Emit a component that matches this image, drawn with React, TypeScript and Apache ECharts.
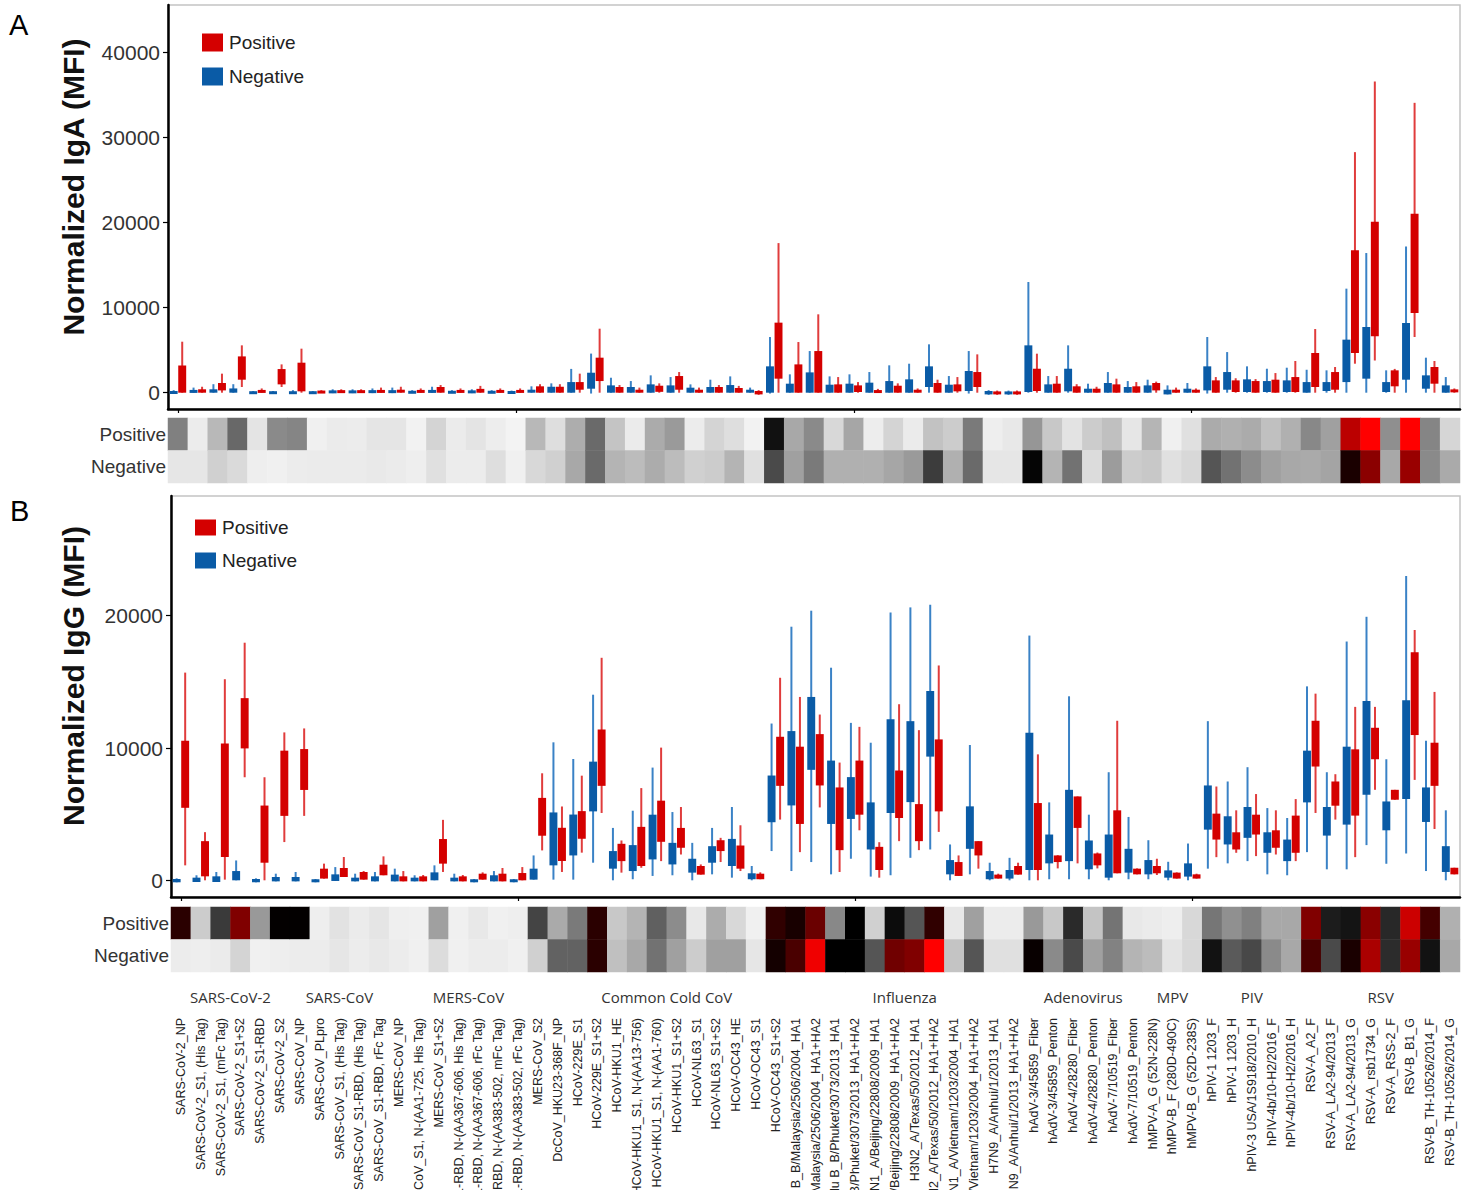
import React, { useEffect, useRef } from "react";
import * as echarts from "echarts";

const antigens = [
  "SARS-CoV-2_NP",
  "SARS-CoV-2_S1, (His Tag)",
  "SARS-CoV-2_S1, (mFc Tag)",
  "SARS-CoV-2_S1+S2",
  "SARS-CoV-2_S1-RBD",
  "SARS-CoV-2_S2",
  "SARS-CoV_NP",
  "SARS-CoV_PLpro",
  "SARS-CoV_S1, (His Tag)",
  "SARS-CoV_S1-RBD, (His Tag)",
  "SARS-CoV_S1-RBD, rFc Tag",
  "MERS-CoV_NP",
  "MERS-CoV_S1, N-(AA1-725, His Tag)",
  "MERS-CoV_S1+S2",
  "MERS-CoV_S1-RBD, N-(AA367-606, His Tag)",
  "MERS-CoV_S1-RBD, N-(AA367-606, rFc Tag)",
  "MERS-CoV_S1-RBD, N-(AA383-502, mFc Tag)",
  "MERS-CoV_S1-RBD, N-(AA383-502, rFc Tag)",
  "MERS-CoV_S2",
  "DcCoV_HKU23-368F_NP",
  "HCoV-229E_S1",
  "HCoV-229E_S1+S2",
  "HCoV-HKU1_HE",
  "HCoV-HKU1_S1, N-(AA13-756)",
  "HCoV-HKU1_S1, N-(AA1-760)",
  "HCoV-HKU1_S1+S2",
  "HCoV-NL63_S1",
  "HCoV-NL63_S1+S2",
  "HCoV-OC43_HE",
  "HCoV-OC43_S1",
  "HCoV-OC43_S1+S2",
  "Flu B_B/Malaysia/2506/2004_HA1",
  "Flu B_B/Malaysia/2506/2004_HA1+HA2",
  "Flu B_B/Phuket/3073/2013_HA1",
  "Flu B_B/Phuket/3073/2013_HA1+HA2",
  "H1N1_A/Beijing/22808/2009_HA1",
  "H1N1_A/Beijing/22808/2009_HA1+HA2",
  "H3N2_A/Texas/50/2012_HA1",
  "H3N2_A/Texas/50/2012_HA1+HA2",
  "H5N1_A/Vietnam/1203/2004_HA1",
  "H5N1_A/Vietnam/1203/2004_HA1+HA2",
  "H7N9_A/Anhui/1/2013_HA1",
  "H7N9_A/Anhui/1/2013_HA1+HA2",
  "hAdV-3/45859_Fiber",
  "hAdV-3/45859_Penton",
  "hAdV-4/28280_Fiber",
  "hAdV-4/28280_Penton",
  "hAdV-7/10519_Fiber",
  "hAdV-7/10519_Penton",
  "hMPV-A_G (52N-228N)",
  "hMPV-B_F (280D-490C)",
  "hMPV-B_G (52D-238S)",
  "hPIV-1 1203_F",
  "hPIV-1 1203_H",
  "hPIV-3 USA/1S918/2010_H",
  "hPIV-4b/10-H2/2016_F",
  "hPIV-4b/10-H2/2016_H",
  "RSV-A_A2_F",
  "RSV-A_LA2-94/2013_F",
  "RSV-A_LA2-94/2013_G",
  "RSV-A_rsb1734_G",
  "RSV-A_RSS-2_F",
  "RSV-B_B1_G",
  "RSV-B_TH-10526/2014_F",
  "RSV-B_TH-10526/2014_G",
];

const groups = [
  { name: "SARS-CoV-2", from: 0, to: 5 },
  { name: "SARS-CoV", from: 6, to: 10 },
  { name: "MERS-CoV", from: 11, to: 18 },
  { name: "Common Cold CoV", from: 19, to: 30 },
  { name: "Influenza", from: 31, to: 42 },
  { name: "Adenovirus", from: 43, to: 48 },
  { name: "MPV", from: 49, to: 51 },
  { name: "PIV", from: 52, to: 56 },
  { name: "RSV", from: 57, to: 64 },
];

const rowNames = ["Negative", "Positive"];
const igaTicks = [0, 10000, 20000, 30000, 40000];
const iggTicks = [0, 10000, 20000];

// [lower whisker, Q1, Q3, upper whisker]
const igaNegative = [
  [-100, -100, 150, 300], [0, 0, 300, 600], [0, 0, 400, 1000], [0, 0, 500, 1000], [-100, -100, 100, 200],
  [-100, -100, 100, 200], [-100, -100, 100, 300], [-100, -100, 100, 200], [-50, 0, 200, 400], [-50, 0, 200, 400],
  [-50, 0, 250, 500], [-50, 0, 250, 600], [-50, -50, 150, 300], [0, 0, 300, 700], [-50, -50, 150, 300],
  [-50, 0, 200, 400], [-50, -50, 150, 300], [-50, -50, 100, 250], [0, 0, 350, 750], [0, 0, 700, 1100],
  [0, 0, 1250, 2800], [-100, 470, 2350, 4600], [0, 0, 860, 1760], [0, 0, 670, 1370], [0, 0, 980, 2040],
  [0, 0, 860, 1840], [0, 0, 590, 980], [0, 0, 670, 1530], [0, 0, 900, 1920], [0, 0, 350, 600],
  [-100, 0, 3100, 6550], [0, 0, 1060, 2160], [0, 0, 2390, 4900], [0, 0, 940, 1920], [0, 0, 1060, 2160],
  [0, 0, 1180, 2430], [0, 0, 1370, 3220], [0, 0, 1570, 3410], [0, 670, 3100, 5690], [0, 0, 940, 1960],
  [-100, 200, 2550, 4900], [-250, -200, 200, 300], [-250, -200, 150, 250], [0, 80, 5570, 13020], [0, 0, 980, 1960],
  [0, 160, 2820, 5570], [0, 0, 470, 1060], [0, 0, 1140, 2430], [0, 0, 670, 1370], [0, 0, 860, 1530],
  [-200, -200, 350, 860], [0, 0, 470, 1140], [-100, 270, 3100, 6550], [0, 350, 2430, 4780], [0, 80, 1570, 3100],
  [0, 80, 1370, 2820], [0, 80, 1450, 2940], [0, 0, 1250, 2700], [0, 200, 1250, 2630], [0, 1250, 6240, 12240],
  [0, 1650, 7730, 16430], [0, 80, 1250, 2630], [0, 1530, 8200, 17200], [0, 470, 2040, 4120], [0, 0, 860, 1840],
];

const igaPositive = [
  [0, 0, 3200, 6000], [0, 0, 400, 700], [0, 270, 1140, 2240], [670, 1530, 4270, 5570], [0, 0, 300, 500],
  [670, 980, 2780, 3330], [0, 160, 3530, 5180], [0, 0, 150, 300], [0, 0, 250, 400], [0, 0, 250, 400],
  [0, 0, 300, 600], [0, 0, 350, 700], [0, 0, 300, 500], [0, 0, 670, 900], [0, 0, 300, 500],
  [0, 0, 450, 800], [0, 0, 300, 500], [0, 0, 300, 500], [0, 0, 750, 1000], [0, 0, 700, 1000],
  [0, 350, 1250, 2240], [0, 1370, 4120, 7530], [0, 0, 670, 900], [0, 0, 350, 600], [0, 100, 820, 1100],
  [0, 350, 1960, 2430], [0, 0, 350, 600], [0, 0, 670, 900], [0, 0, 550, 800], [-250, -200, 200, 300],
  [0, 1650, 8240, 17600], [0, 0, 3330, 5960], [0, 0, 4900, 9220], [0, 0, 980, 1840], [0, 80, 860, 1250],
  [0, 0, 270, 450], [0, 0, 820, 1100], [0, 0, 350, 500], [0, 0, 1140, 1530], [0, 160, 980, 1840],
  [0, 670, 2430, 4510], [-250, -200, 150, 250], [-250, -200, 150, 250], [0, 200, 2820, 4590], [0, 0, 1060, 1960],
  [0, 0, 750, 1000], [0, 0, 470, 700], [0, 0, 980, 1650], [0, 0, 750, 1250], [0, 270, 1140, 1300],
  [0, 0, 350, 600], [0, 0, 350, 500], [0, 0, 1450, 1840], [0, 80, 1450, 1700], [0, 0, 1370, 1600],
  [0, 0, 1530, 2310], [0, 80, 1840, 3730], [0, 670, 4670, 7490], [0, 350, 2430, 3020], [3410, 4670, 16750, 28300],
  [3800, 6630, 20100, 36600], [0, 750, 2630, 2800], [6550, 9370, 21060, 34100], [0, 1060, 3020, 3730], [0, 80, 350, 500],
];

const iggNegative = [
  [-150, -150, 100, 150], [-130, -130, 200, 380], [-130, -130, 300, 630], [0, 0, 700, 1500], [-150, -150, 100, 150],
  [-80, -80, 250, 500], [-80, -80, 250, 630], [-150, -150, 80, 100], [-50, -50, 450, 1000], [-80, -80, 200, 500],
  [-80, -80, 300, 630], [-80, -80, 430, 880], [-80, -80, 200, 380], [0, 0, 600, 1130], [-80, -80, 200, 500],
  [-150, -150, 80, 100], [-80, -80, 380, 700], [-150, -150, 80, 100], [50, 50, 880, 1880], [50, 1130, 5130, 10430],
  [50, 1880, 4970, 9170], [1330, 5210, 8970, 14030], [0, 880, 2210, 3960], [80, 700, 2660, 5260], [330, 1580, 4960, 8520],
  [380, 1200, 2830, 5160], [0, 580, 1630, 2830], [450, 1330, 2580, 3960], [200, 1080, 3130, 5540], [0, 80, 530, 1080],
  [2210, 4390, 7920, 11850], [700, 5660, 11280, 19170], [1380, 8350, 13860, 20380], [450, 4260, 9050, 16070], [1630, 4640, 7800, 11900],
  [280, 2330, 5890, 10400], [380, 5090, 12180, 20250], [1700, 5910, 12030, 20630], [2330, 9350, 14310, 20830], [0, 450, 1530, 2710],
  [450, 2380, 5590, 10230], [0, 80, 700, 1330], [0, 130, 780, 1700], [0, 780, 11150, 18500], [80, 1280, 3460, 5890],
  [80, 1450, 6840, 13910], [80, 830, 3010, 4960], [0, 200, 3460, 8170], [80, 580, 2380, 4790], [80, 450, 1530, 3030],
  [0, 200, 750, 1400], [0, 280, 1280, 2780], [880, 3830, 7170, 12030], [1280, 2710, 4840, 7470], [1450, 3210, 5540, 8550],
  [450, 2080, 3630, 5460], [380, 1450, 3080, 4710], [2130, 5890, 9800, 14660], [830, 3380, 5540, 8170], [830, 4210, 10100, 18050],
  [2660, 6470, 13560, 19920], [1250, 3780, 5960, 9150], [2030, 6140, 13610, 23010], [700, 4410, 7020, 10550], [0, 630, 2580, 5290],
];

const iggPositive = [
  [1130, 5480, 10550, 15700], [0, 300, 2960, 3640], [50, 1760, 10350, 15200], [7790, 9970, 13770, 17960], [0, 1330, 5650, 7790],
  [2890, 4870, 9800, 11180], [4870, 6830, 9920, 11480], [130, 130, 880, 1260], [250, 250, 930, 1760], [50, 50, 630, 700],
  [380, 380, 1180, 1810], [-80, -80, 300, 700], [-80, -80, 300, 400], [630, 1260, 3120, 4570], [-80, -80, 300, 400],
  [50, 50, 500, 600], [-80, -80, 500, 930], [0, 0, 550, 1000], [2260, 3370, 6230, 8090], [630, 1460, 3970, 5580],
  [2090, 3140, 5230, 7910], [5090, 7140, 11400, 16820], [580, 1450, 2760, 3010], [950, 1080, 4040, 6970], [1450, 2910, 6020, 10030],
  [1950, 2460, 3960, 5540], [430, 430, 1080, 1200], [1380, 2210, 3030, 3210], [700, 880, 2630, 4160], [80, 80, 500, 600],
  [4590, 7140, 10850, 15310], [2130, 4260, 10100, 13860], [5510, 7170, 11050, 12530], [630, 2280, 7020, 8900], [3780, 4960, 9050, 11600],
  [200, 780, 2530, 2880], [2960, 4710, 8300, 13310], [2280, 2960, 5760, 11350], [3660, 5210, 10650, 16240], [330, 330, 1380, 1880],
  [880, 1880, 2960, 2960], [130, 130, 430, 500], [430, 430, 1080, 1330], [0, 780, 5840, 9520], [900, 1380, 1880, 1900],
  [1280, 3960, 6340, 6340], [900, 1130, 2030, 2100], [530, 530, 5290, 12060], [450, 450, 880, 900], [400, 530, 1080, 1630],
  [130, 130, 580, 600], [130, 130, 450, 500], [1750, 3080, 5040, 7090], [2080, 2330, 3630, 5290], [1830, 3460, 4960, 6520],
  [1950, 2460, 3780, 5290], [1450, 2080, 4890, 6140], [5090, 8600, 12060, 14110], [4590, 5640, 7470, 8020], [1750, 4890, 9900, 13110],
  [6840, 9150, 11530, 13110], [6090, 6090, 6840, 6840], [7590, 10980, 17240, 18920], [3880, 7140, 10400, 14240], [450, 450, 950, 950],
];

// heat scores: 0 = white, 50 = black, 100 = red
const igaHeatPositive = [
  24.0, 2.0, 12.6, 28.9, 3.7, 22.0, 23.0, 1.2, 2.2, 2.0, 3.5, 3.5, 0.8, 6.9, 2.2, 3.7, 1.8, 0.6, 12.6, 4.9,
  14.8, 28.5, 10.2, 2.2, 15.2, 18.7, 2.0, 6.9, 4.9, 0.8, 46.5, 15.9, 22.0, 6.1, 16.3, 1.8, 6.9, 2.2, 10.6, 8.5,
  25.2, 1.6, 2.8, 19.5, 9.3, 3.9, 8.5, 11.0, 3.3, 13.2, 1.2, 4.5, 15.2, 14.2, 15.2, 11.0, 14.2, 22.4, 17.5, 86.7,
  100, 20.9, 100, 23.0, 6.5,
];
const igaHeatNegative = [
  3.3, 3.3, 7.7, 5.7, 1.6, 1.2, 2.0, 2.2, 2.2, 2.2, 2.6, 2.2, 1.6, 4.5, 2.0, 2.0, 4.9, 1.2, 6.1, 7.7,
  15.9, 28.5, 13.4, 11.8, 15.0, 11.8, 7.7, 8.5, 13.4, 4.5, 35.0, 17.5, 25.2, 14.2, 14.2, 14.2, 16.3, 18.7, 37.8, 14.2,
  28.5, 3.3, 3.3, 49.0, 13.4, 26.8, 5.3, 18.3, 8.5, 9.3, 4.5, 6.1, 32.7, 26.8, 21.5, 17.5, 15.9, 15.4, 16.7, 55.1,
  77.3, 15.9, 80, 22.0, 15.4,
];
const iggHeatPositive = [
  58.2, 8.5, 38.2, 75.1, 18.9, 50.5, 50.5, 1.6, 4.1, 2.2, 3.5, 1.4, 1.2, 17.5, 1.2, 2.8, 1.2, 1.6, 36.2, 15.4,
  25.2, 58.2, 9.3, 13.4, 30.5, 21.5, 2.8, 15.0, 6.1, 1.2, 59.4, 54.7, 70.8, 22.4, 50, 7.7, 47.6, 32.7, 59.4, 2.8,
  17.5, 2.0, 2.0, 18.9, 9.3, 41.5, 10.2, 26.4, 2.8, 2.2, 1.6, 6.1, 26.0, 20.7, 24.0, 15.9, 15.9, 75.1, 44.3, 45.9,
  77.1, 41.9, 90, 63.3, 14.2,
];
const iggHeatNegative = [
  2.0, 1.6, 2.2, 6.9, 1.2, 1.6, 2.0, 2.0, 3.3, 2.0, 2.8, 2.0, 1.2, 5.3, 1.2, 2.0, 2.0, 1.2, 7.7, 30.1,
  30.1, 58.2, 11.0, 15.9, 26.8, 17.5, 8.5, 17.5, 17.5, 3.3, 53.9, 64.5, 97, 50, 50, 32.7, 72, 75.1, 100, 10.2,
  32.7, 4.5, 4.5, 51.6, 22.0, 35.0, 17.5, 23.6, 13.4, 11.8, 3.7, 6.1, 46.3, 31.7, 35.4, 22.0, 15.9, 64.5, 35.0, 55.1,
  83.3, 41.1, 80, 46.3, 15.9,
];

const RED = "#d40000";
const RED_WHISKER = "#e03c3c";
const BLUE = "#0a5ba6";
const BLUE_WHISKER = "#3a82c6";
const FONT = "Liberation Sans, Arial, sans-serif";

function makeRender(offset: number, fill: string, stroke: string) {
  return (params: any, api: any) => {
    const i = api.value(0);
    const lo = api.coord([i, api.value(1)]);
    const q1 = api.coord([i, api.value(2)]);
    const q3 = api.coord([i, api.value(3)]);
    const hi = api.coord([i, api.value(4)]);
    const w = api.size([1, 0])[0];
    const cx = q1[0] + offset * w;
    const bw = w * 0.4;
    let top = q3[1];
    let h = q1[1] - q3[1];
    if (h < 3) {
      const mid = (q1[1] + q3[1]) / 2;
      top = mid - 1.5;
      h = 3;
    }
    return {
      type: "group",
      children: [
        { type: "line", shape: { x1: cx, y1: lo[1], x2: cx, y2: hi[1] }, style: { stroke, lineWidth: 2 } },
        { type: "rect", shape: { x: cx - bw / 2, y: top, width: bw, height: h }, style: { fill } },
      ],
    };
  };
}

const boxData = (arr: number[][]) => arr.map((d, i) => [i, d[0], d[1], d[2], d[3]]);
const heatData = (pos: number[], neg: number[]) => {
  const out: number[][] = [];
  antigens.forEach((_, i) => {
    out.push([i, 1, pos[i]]);
    out.push([i, 0, neg[i]]);
  });
  return out;
};

export default function App() {
  const ref = useRef<HTMLDivElement>(null);
  useEffect(() => {
    if (!ref.current) return;
    const chart = echarts.init(ref.current, null, { renderer: "svg" });

    const plotX = (gridIndex: number) => ({
      type: "category",
      gridIndex,
      data: antigens,
      boundaryGap: true,
      axisLine: { show: true, onZero: false, lineStyle: { color: "#000", width: 2.5 } },
      axisTick: { show: true, alignWithLabel: true, length: 4, lineStyle: { color: "#000", width: 1.2 } },
      axisLabel: { show: false },
      splitLine: { show: false },
    });
    const heatX = (gridIndex: number, labels: boolean) => ({
      type: "category",
      gridIndex,
      data: antigens,
      boundaryGap: true,
      axisLine: { show: false },
      axisTick: { show: false },
      axisLabel: labels
        ? { show: true, rotate: 90, interval: 0, margin: 46, fontSize: 12.5, color: "#222", fontFamily: FONT }
        : { show: false },
      splitLine: { show: false },
    });
    const plotY = (gridIndex: number, min: number, max: number, ticks: number[]) => ({
      type: "value",
      gridIndex,
      min,
      max,
      axisLine: { show: true, onZero: false, lineStyle: { color: "#000", width: 2.5 } },
      axisTick: { show: true, length: 5, customValues: ticks, lineStyle: { color: "#000", width: 1.2 } },
      axisLabel: {
        customValues: ticks,
        formatter: (v: number) => String(v),
        fontSize: 21,
        color: "#333",
        margin: 8,
        fontFamily: FONT,
      },
      splitLine: { show: false },
    });
    const heatY = (gridIndex: number) => ({
      type: "category",
      gridIndex,
      data: rowNames,
      axisLine: { show: false },
      axisTick: { show: false },
      axisLabel: { fontSize: 19, color: "#333", margin: 2, fontFamily: FONT },
      splitLine: { show: false },
    });

    const boxSeries = (name: string, xi: number, yi: number, arr: number[][], offset: number, fill: string, stroke: string) => ({
      type: "custom",
      name,
      xAxisIndex: xi,
      yAxisIndex: yi,
      itemStyle: { color: fill },
      renderItem: makeRender(offset, fill, stroke),
      encode: { x: 0, y: [1, 2, 3, 4] },
      data: boxData(arr),
      silent: true,
    });

    const legend = (left: number, top: number, itemHeight: number, itemGap: number) => ({
      data: ["Positive", "Negative"],
      orient: "vertical",
      left,
      top,
      padding: 0,
      icon: "rect",
      itemWidth: 21,
      itemHeight,
      itemGap,
      selectedMode: false,
      textStyle: { fontSize: 19, color: "#222", fontFamily: FONT, padding: [0, 0, 0, 1] },
    });

    const gridBase = { outerBoundsMode: "none", containLabel: false };
    const option: any = {
      animation: false,
      backgroundColor: "#fff",
      textStyle: { fontFamily: FONT },
      grid: [
        { ...gridBase, left: 168, right: 9, top: 5, height: 404, show: true, borderColor: "#c4c4c4", borderWidth: 1.5, backgroundColor: "#fff" },
        { ...gridBase, left: 168, right: 9, top: 418, height: 65 },
        { ...gridBase, left: 171, right: 9, top: 496, height: 401, show: true, borderColor: "#c4c4c4", borderWidth: 1.5, backgroundColor: "#fff" },
        { ...gridBase, left: 171, right: 9, top: 907, height: 65 },
      ],
      xAxis: [plotX(0), heatX(1, false), plotX(2), heatX(3, true)],
      yAxis: [plotY(0, -1918, 45610, igaTicks), heatY(1), plotY(2, -1262, 29050, iggTicks), heatY(3)],
      legend: [legend(202, 33, 18, 15), legend(195, 518, 16, 14)],
      visualMap: {
        type: "continuous",
        show: false,
        min: 0,
        max: 100,
        dimension: 2,
        seriesIndex: [2, 5],
        inRange: { color: ["#f6f6f6", "#000000", "#ff0000"] },
      },
      series: [
        boxSeries("Negative", 0, 0, igaNegative, -0.215, BLUE, BLUE_WHISKER),
        boxSeries("Positive", 0, 0, igaPositive, 0.215, RED, RED_WHISKER),
        { type: "heatmap", xAxisIndex: 1, yAxisIndex: 1, data: heatData(igaHeatPositive, igaHeatNegative), silent: true, emphasis: { disabled: true } },
        boxSeries("Negative", 2, 2, iggNegative, -0.215, BLUE, BLUE_WHISKER),
        boxSeries("Positive", 2, 2, iggPositive, 0.215, RED, RED_WHISKER),
        { type: "heatmap", xAxisIndex: 3, yAxisIndex: 3, data: heatData(iggHeatPositive, iggHeatNegative), silent: true, emphasis: { disabled: true } },
      ],
    };
    chart.setOption(option);

    const px = (i: number) => chart.convertToPixel({ xAxisIndex: 3 }, i) as unknown as number;
    const groupTexts = groups.map((g) => ({
      type: "text",
      x: (px(g.from) + px(g.to)) / 2,
      y: 997,
      style: { text: g.name, align: "center", verticalAlign: "middle", fontSize: 15, fontFamily: "Open Sans, sans-serif", fill: "#333" },
    }));

    chart.setOption({
      graphic: [
        { type: "text", x: 9, y: 25, style: { text: "A", fontSize: 29, fontFamily: FONT, fill: "#000", verticalAlign: "middle" } },
        { type: "text", x: 10, y: 511, style: { text: "B", fontSize: 29, fontFamily: FONT, fill: "#000", verticalAlign: "middle" } },
        {
          type: "text", x: 73, y: 187, rotation: Math.PI / 2,
          style: { text: "Normalized IgA (MFI)", align: "center", verticalAlign: "middle", fontSize: 30, fontWeight: "bold", fontFamily: FONT, fill: "#111" },
        },
        {
          type: "text", x: 73, y: 676, rotation: Math.PI / 2,
          style: { text: "Normalized IgG (MFI)", align: "center", verticalAlign: "middle", fontSize: 30, fontWeight: "bold", fontFamily: FONT, fill: "#111" },
        },
        ...groupTexts,
      ],
    });

    return () => chart.dispose();
  }, []);

  return <div ref={ref} style={{ position: "absolute", left: 0, top: 0, width: 1469, height: 1190, background: "#fff" }} />;
}
